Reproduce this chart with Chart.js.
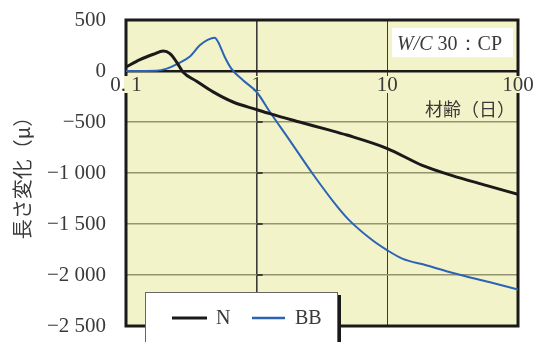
<!DOCTYPE html>
<html>
<head>
<meta charset="utf-8">
<script src="https://cdn.jsdelivr.net/npm/chart.js@4"></script>
<style>
  html, body { margin: 0; padding: 0; background: #fff; }
  #wrap { width: 533px; height: 342px; }
</style>
</head>
<body>
<div id="wrap"><canvas id="chart"></canvas></div>
<script>
// ---- data ----
const nDays   = [0.1, 0.128, 0.162, 0.193, 0.217, 0.244, 0.274, 0.347, 0.464, 0.659, 1, 1.26, 2.13, 3.5, 4.9, 10, 18.5, 31, 57, 100];
const nValues = [39, 112, 164, 196, 170, 88, -12, -100, -205, -304, -378, -418, -500, -575, -628, -760, -925, -1023, -1121, -1210];

const bbDays   = [0.1, 0.17, 0.205, 0.25, 0.31, 0.367, 0.425, 0.478, 0.507, 0.57, 0.64, 0.786, 1, 1.26, 1.79, 2.69, 4.17, 5.1, 7.7, 10, 13, 19.8, 33.5, 60, 100];
const bbValues = [0, 3, 23, 72, 144, 252, 308, 327, 284, 137, 23, -91, -206, -400, -680, -1010, -1335, -1462, -1660, -1758, -1839, -1905, -1987, -2069, -2142];

const xTickValues = [0.1, 1, 10, 100];
const xTickLabels = ['0. 1', '1', '10', '100'];
const seriesNames = ['N', 'BB'];
const seriesColors = ['#1a1a1a', '#2b63b5'];

const PLOT_BG = '#f3f3c9';
const TEXT = '#3a3a3a';
const SERIF = '"Liberation Serif", "DejaVu Serif", serif';
const CJK = '"Noto Sans CJK JP", sans-serif';

function toPoints(xs, ys) {
  return xs.map((x, i) => ({ x: x, y: ys[i] }));
}

function fmtY(v) {
  if (v === 0) return '0';
  const a = Math.abs(v);
  let s = a >= 1000 ? Math.floor(a / 1000) + ' ' + String(a % 1000).padStart(3, '0') : String(a);
  return (v < 0 ? '\u2212' : '') + s;
}

// background, frame, in-plot labels, legend
const decorPlugin = {
  id: 'decor',
  beforeDraw(chart) {
    const { ctx, chartArea: a } = chart;
    ctx.save();
    ctx.fillStyle = PLOT_BG;
    ctx.fillRect(a.left, a.top, a.right - a.left, a.bottom - a.top);
    ctx.restore();
  },
  beforeDatasetsDraw(chart) {
    const { ctx, chartArea: a, scales } = chart;
    const xs = scales.x, ys = scales.y;
    ctx.save();

    // small tick marks on the x = 1 line
    const x1 = xs.getPixelForValue(1);
    ctx.strokeStyle = '#1a1a1a';
    ctx.lineWidth = 1.5;
    ys.ticks.forEach(t => {
      const py = ys.getPixelForValue(t.value);
      ctx.beginPath();
      ctx.moveTo(x1, py);
      ctx.lineTo(x1 + 6, py);
      ctx.stroke();
    });

    // frame
    ctx.strokeStyle = '#1a1a1a';
    ctx.lineWidth = 3;
    ctx.strokeRect(a.left, a.top, a.right - a.left, a.bottom - a.top);

    // x tick labels just below the zero line
    const y0 = ys.getPixelForValue(0);
    ctx.font = '21px ' + SERIF;
    ctx.textAlign = 'center';
    ctx.textBaseline = 'middle';
    xTickValues.forEach((v, i) => {
      const px = xs.getPixelForValue(v);
      const w = ctx.measureText(xTickLabels[i]).width;
      ctx.save();
      ctx.beginPath();
      ctx.rect(a.left - 2, a.top, a.right - a.left + 4, a.bottom - a.top);
      ctx.clip();
      ctx.fillStyle = PLOT_BG;
      ctx.fillRect(px - w / 2 - 1, y0 + 5, w + 2, 17);
      ctx.restore();
      ctx.fillStyle = TEXT;
      ctx.fillText(xTickLabels[i], px, y0 + 14);
    });
    ctx.restore();
  },
  afterDraw(chart) {
    const { ctx, chartArea: a, scales } = chart;
    const ys = scales.y;
    const y0 = ys.getPixelForValue(0);
    ctx.save();

    // x axis caption
    ctx.font = '18px ' + CJK;
    ctx.textAlign = 'right';
    ctx.textBaseline = 'middle';
    ctx.fillStyle = TEXT;
    ctx.fillText('材齢（日）', a.right - 3, y0 + 38);

    // W/C box
    ctx.fillStyle = '#fff';
    ctx.fillRect(a.right - 126, a.top + 8, 121, 29);
    ctx.textAlign = 'left';
    ctx.textBaseline = 'alphabetic';
    ctx.fillStyle = TEXT;
    ctx.font = 'italic 20px ' + SERIF;
    let tx = a.right - 121;
    ctx.fillText('W/C', tx, a.top + 30);
    tx += ctx.measureText('W/C ').width;
    ctx.font = '20px ' + SERIF;
    ctx.fillText('30：CP', tx, a.top + 30);

    // legend box with shadow
    const lx = 145, ly = 292, lw = 192;
    ctx.fillStyle = '#1a1a1a';
    ctx.fillRect(lx + 4, ly + 3, lw, 60);
    ctx.fillStyle = '#fff';
    ctx.fillRect(lx, ly, lw, 60);
    ctx.strokeStyle = '#666';
    ctx.lineWidth = 1;
    ctx.strokeRect(lx + 0.5, ly + 0.5, lw, 60);

    const items = [
      { x0: 172, x1: 207, tx: 216, w: 3 },
      { x0: 252, x1: 285, tx: 295, w: 2.5 }
    ];
    ctx.font = '20px ' + SERIF;
    ctx.textBaseline = 'middle';
    items.forEach((it, i) => {
      ctx.strokeStyle = seriesColors[i];
      ctx.lineWidth = it.w;
      ctx.beginPath();
      ctx.moveTo(it.x0, 318);
      ctx.lineTo(it.x1, 318);
      ctx.stroke();
      ctx.fillStyle = TEXT;
      ctx.fillText(seriesNames[i], it.tx, 319);
    });

    ctx.restore();
  }
};

new Chart(document.getElementById('chart'), {
  type: 'line',
  data: {
    datasets: [
      {
        label: seriesNames[0],
        data: toPoints(nDays, nValues),
        borderColor: seriesColors[0],
        borderWidth: 3,
        pointRadius: 0,
        cubicInterpolationMode: 'monotone'
      },
      {
        label: seriesNames[1],
        data: toPoints(bbDays, bbValues),
        borderColor: seriesColors[1],
        borderWidth: 2,
        pointRadius: 0,
        cubicInterpolationMode: 'monotone'
      }
    ]
  },
  options: {
    responsive: true,
    maintainAspectRatio: false,
    animation: false,
    layout: { padding: { left: 0, right: 15, top: 20, bottom: 16 } },
    plugins: { legend: { display: false }, tooltip: { enabled: false } },
    scales: {
      x: {
        type: 'logarithmic',
        min: 0.1,
        max: 100,
        afterBuildTicks: s => { s.ticks = xTickValues.map(v => ({ value: v })); },
        afterFit: s => {
          s.height = 0;
          s.paddingLeft = s.paddingRight = s.paddingTop = s.paddingBottom = 0;
        },
        ticks: { display: false },
        border: { display: false },
        grid: {
          drawTicks: false,
          color: c => (c.tick && (c.tick.value === 1 || c.tick.value === 10)) ? '#3a3a3a' : 'rgba(0,0,0,0)',
          lineWidth: c => (c.tick && c.tick.value === 1) ? 1.6 : 1
        }
      },
      y: {
        min: -2500,
        max: 500,
        ticks: {
          stepSize: 500,
          padding: 20,
          color: TEXT,
          font: { family: SERIF, size: 21 },
          callback: v => fmtY(v)
        },
        afterFit: s => {
          s.width = 126;
          s.paddingLeft = s.paddingRight = s.paddingTop = s.paddingBottom = 0;
        },
        border: { display: false },
        grid: {
          drawTicks: false,
          color: c => (c.tick && c.tick.value === 0) ? '#1a1a1a' : '#94946f',
          lineWidth: c => (c.tick && c.tick.value === 0) ? 2.5 : 1.5
        },
        title: {
          display: true,
          text: '長さ変化（μ）',
          color: TEXT,
          font: { family: CJK, size: 20 },
          padding: { top: 10, bottom: 0 }
        }
      }
    }
  },
  plugins: [decorPlugin]
});
</script>
</body>
</html>
